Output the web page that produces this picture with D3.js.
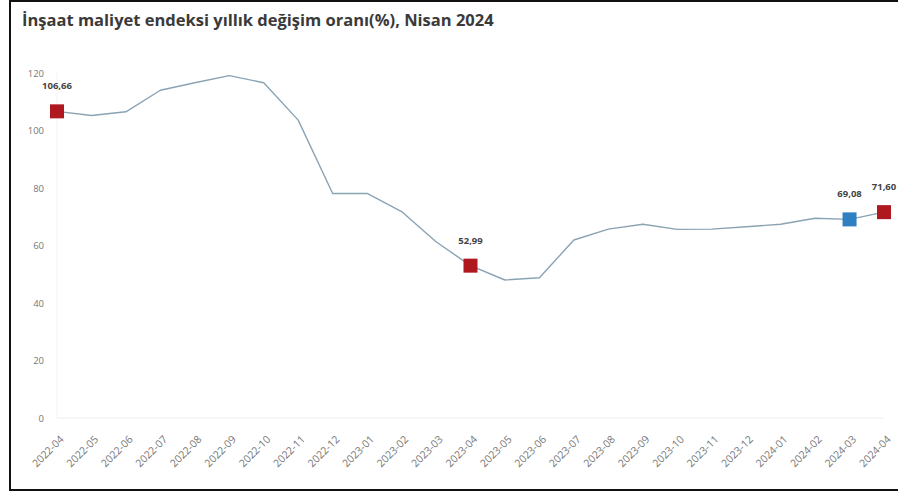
<!DOCTYPE html>
<html>
<head>
<meta charset="utf-8">
<script src="https://cdn.jsdelivr.net/npm/d3@7"></script>
<style>
  body { margin: 0; background: #fff; }
  svg { display: block; font-family: "Open Sans", sans-serif; }
</style>
</head>
<body>
<script>
var width = 898,
    height = 492;

var months = ["2022-04","2022-05","2022-06","2022-07","2022-08","2022-09","2022-10","2022-11","2022-12",
              "2023-01","2023-02","2023-03","2023-04","2023-05","2023-06","2023-07","2023-08","2023-09",
              "2023-10","2023-11","2023-12","2024-01","2024-02","2024-03","2024-04"];
var values = [106.66, 105.2, 106.5, 114.0, 116.6, 119.1, 116.6, 103.6, 78.1,
              78.1, 71.8, 61.3, 52.99, 48.0, 48.8, 61.9, 65.7, 67.4,
              65.6, 65.7, 66.5, 67.4, 69.5, 69.08, 71.60];
var yTicks = [0, 20, 40, 60, 80, 100, 120];
// highlighted points: index and colour
var marked = [
  { i: 0, color: "#b0181f" },
  { i: 12, color: "#b0181f" },
  { i: 23, color: "#2f7fc1" },
  { i: 24, color: "#b0181f" }
];

var svg = d3.select('body').append('svg')
    .attr('width', width)
    .attr('height', height);

/* frame around the picture */
svg.append('rect')
    .attr('x', 10).attr('y', 1)
    .attr('width', 900).attr('height', 489)
    .attr('fill', 'none')
    .attr('stroke', '#111')
    .attr('stroke-width', 2);

svg.append('text')
    .attr('x', 22).attr('y', 26)
    .attr('font-size', 16.5)
    .attr('font-weight', 'bold')
    .attr('fill', '#3a3a3a')
    .text('İnşaat maliyet endeksi yıllık değişim oranı(%), Nisan 2024');

var x = d3.scalePoint().domain(months).range([57, 884]);
var y = d3.scaleLinear().domain([0, 120]).range([418, 73]);

// baseline and left guide
svg.append('line')
    .attr('x1', 57).attr('x2', 884)
    .attr('y1', y(0)).attr('y2', y(0))
    .attr('stroke', '#eeeeee');
svg.append('line')
    .attr('x1', 57).attr('x2', 57)
    .attr('y1', y(0)).attr('y2', y(120))
    .attr('stroke', '#f2f2f2');

var yAxis = svg.append('g')
    .attr('transform', 'translate(44,0)')
    .call(d3.axisLeft(y).tickValues(yTicks).tickSize(0).tickPadding(0));
yAxis.select('.domain').remove();
yAxis.selectAll('text')
    .attr('fill', '#777')
    .attr('font-size', 9.5)
    .attr('font-family', '"Open Sans", sans-serif');

var xAxis = svg.append('g')
    .attr('transform', 'translate(0,' + y(0) + ')')
    .call(d3.axisBottom(x).tickSize(0).tickPadding(0));
xAxis.select('.domain').remove();
xAxis.selectAll('text')
    .attr('fill', '#777')
    .attr('font-size', 10.5)
    .attr('font-family', '"Open Sans", sans-serif')
    .attr('text-anchor', 'end')
    .attr('dy', null)
    .attr('transform', 'translate(7,22) rotate(-45)');

var line = d3.line()
    .x(function(d, i) { return x(months[i]); })
    .y(function(d) { return y(d); });

svg.append('path')
    .datum(values)
    .attr('d', line)
    .attr('fill', 'none')
    .attr('stroke', '#8aa3b4')
    .attr('stroke-width', 1.4)
    .attr('stroke-linejoin', 'round');

var fmt = function(v) { return v.toFixed(2).replace('.', ','); };

svg.selectAll('rect.mark')
    .data(marked)
    .enter().append('rect')
    .attr('class', 'mark')
    .attr('x', function(d) { return x(months[d.i]) - 7; })
    .attr('y', function(d) { return y(values[d.i]) - 7; })
    .attr('width', 14).attr('height', 14)
    .attr('fill', function(d) { return d.color; });

svg.selectAll('text.lbl')
    .data(marked)
    .enter().append('text')
    .attr('class', 'lbl')
    .attr('x', function(d) { return x(months[d.i]); })
    .attr('y', function(d) { return y(values[d.i]) - 22; })
    .attr('text-anchor', 'middle')
    .attr('font-size', 9.5)
    .attr('font-weight', 'bold')
    .attr('fill', '#444')
    .text(function(d) { return fmt(values[d.i]); });
</script>
</body>
</html>
